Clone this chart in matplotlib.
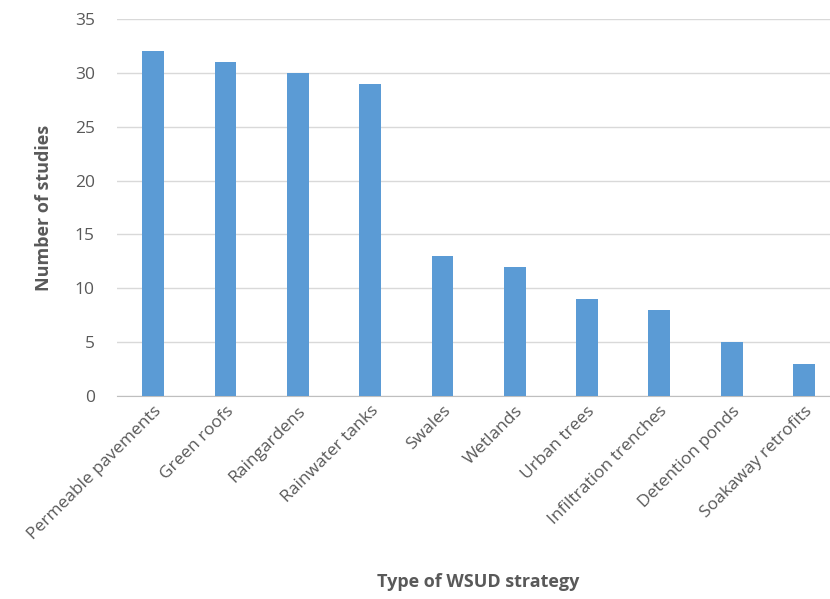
import matplotlib.pyplot as plt

# data
strategies = ["Permeable pavements", "Green roofs", "Raingardens", "Rainwater tanks",
              "Swales", "Wetlands", "Urban trees", "Infiltration trenches",
              "Detention ponds", "Soakaway retrofits"]
studies = [32, 31, 30, 29, 13, 12, 9, 8, 5, 3]

plt.rcParams['font.family'] = ['Open Sans', 'DejaVu Sans']

fig = plt.figure(figsize=(8.3, 5.99), dpi=100)
ax = fig.add_axes([117 / 830, (599 - 396) / 599, (830 - 117) / 830, (396 - 19) / 599])

x = range(len(strategies))
ax.bar(x, studies, width=0.3, color="#5B9BD5", zorder=3)

ax.set_ylim(0, 35)
ax.set_yticks(range(0, 36, 5))
ax.set_xlim(-0.5, 9.36)
ax.set_xticks(list(x))
ax.set_xticklabels(strategies, rotation=45, ha="right", rotation_mode="anchor")

ax.grid(axis="y", color="#D9D9D9", linewidth=1, zorder=0)
for s in ["top", "right", "left"]:
    ax.spines[s].set_visible(False)
ax.spines["bottom"].set_color("#BFBFBF")
ax.tick_params(length=0, labelsize=12.5, colors="#595959")
ax.tick_params(axis="y", pad=16)
ax.tick_params(axis="x", pad=5)

ax.set_ylabel("Number of studies", fontsize=13, fontweight="bold", color="#595959", labelpad=16)
fig.text(478 / 830, 1 - 582 / 599, "Type of WSUD strategy", fontsize=13, fontweight="bold",
         color="#595959", ha="center", va="center")

fig.savefig("out.png", dpi=100)
